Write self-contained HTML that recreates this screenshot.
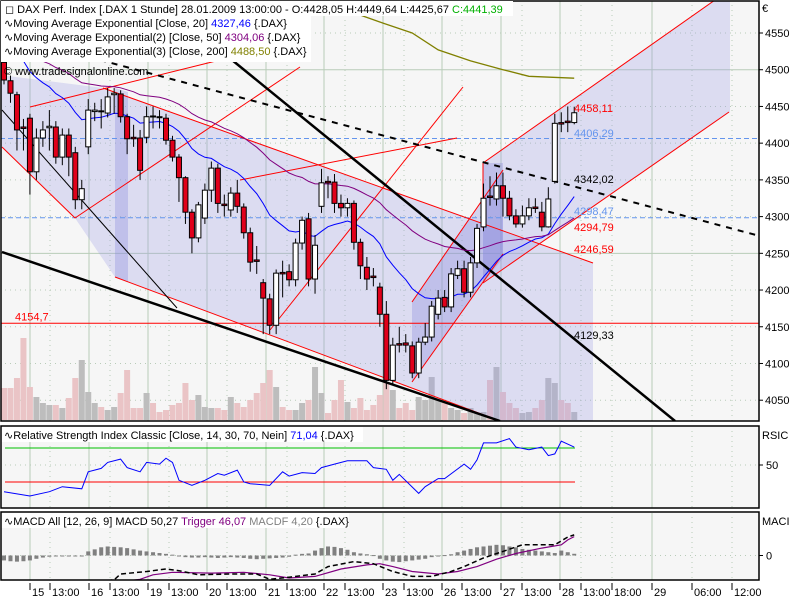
<!DOCTYPE html>
<html><head><meta charset="utf-8"><style>
body{margin:0;background:#fff;}
svg{display:block;font-family:"Liberation Sans",sans-serif;}
</style></head><body>
<svg id="chart" width="800" height="600" viewBox="0 0 800 600">
<rect x="0" y="0" width="800" height="600" fill="#ffffff"/>
<defs>
<clipPath id="cm"><rect x="1" y="1" width="758" height="420"/></clipPath>
<clipPath id="cr"><rect x="1" y="427" width="758" height="81"/></clipPath>
<clipPath id="cd"><rect x="1" y="513" width="758" height="67"/></clipPath>
</defs>
<g id="main" clip-path="url(#cm)"></g>
<g id="rsi" clip-path="url(#cr)"></g>
<g id="macd" clip-path="url(#cd)"></g>
<g id="frames"></g>
<g id="axes"></g>
<g id="legend" font-size="11">
<rect x="1" y="1" width="512" height="15" fill="#fff"/>
<rect x="1" y="16" width="310" height="46" fill="#fff"/>
<text x="5" y="13">◻ DAX Perf. Index [.DAX  1 Stunde] 28.01.2009 13:00:00 - O:4428,05 H:4449,64 L:4425,67 <tspan fill="#00b000">C:4441,39</tspan></text>
<text x="4" y="27">∿Moving Average Exponential [Close, 20] <tspan fill="#0000ff">4327,46</tspan> {.DAX}</text>
<text x="4" y="41">∿Moving Average Exponential(2) [Close, 50] <tspan fill="#800080">4304,06</tspan> {.DAX}</text>
<text x="4" y="55">∿Moving Average Exponential(3) [Close, 200] <tspan fill="#808000">4488,50</tspan> {.DAX}</text>
<text x="4" y="75">© www.tradesignalonline.com</text>
</g>
</svg>
<script>
const opens=[4510,4485,4466,4422,4434,4361,4407,4421,4422,4381,4411,4387,4323,4395,4443,4444,4441,4466,4467,4436,4408,4407,4408,4437,4436,4434,4404,4381,4353,4306,4271,4298,4336,4366,4317,4309,4332,4313,4278,4241,4210,4188,4152,4224,4225,4214,4264,4297,4215,4314,4348,4347,4318,4312,4318,4265,4231,4219,4204,4167,4077,4127,4128,4124,4087,4129,4136,4167,4190,4177,4220,4229,4197,4237,4286,4328,4324,4342,4325,4301,4290,4301,4313,4306,4286,4348,4428,4430,4428.05];
const closes=[4486,4468,4418,4420,4361,4407,4418,4423,4381,4411,4381,4323,4338,4445,4445,4443,4463,4468,4436,4406,4406,4363,4436,4436,4435,4404,4381,4353,4306,4271,4316,4336,4366,4318,4315,4332,4314,4278,4238,4239,4189,4152,4223,4222,4214,4264,4295,4215,4261,4346,4346,4318,4312,4318,4265,4233,4215,4217,4167,4077,4125,4125,4125,4087,4129,4136,4178,4189,4177,4222,4229,4197,4237,4284,4325,4326,4342,4325,4301,4290,4301,4312,4311,4286,4324,4427,4426,4428,4441.39];
const highs=[4520,4492,4470,4433,4440,4420,4430,4445,4430,4420,4420,4395,4350,4460,4455,4460,4475,4475,4472,4440,4425,4418,4450,4450,4445,4440,4410,4385,4355,4310,4320,4345,4375,4372,4330,4340,4350,4318,4285,4260,4215,4195,4228,4240,4235,4270,4300,4305,4275,4365,4355,4358,4330,4325,4322,4270,4245,4230,4210,4185,4135,4150,4140,4130,4135,4155,4185,4200,4200,4230,4240,4240,4245,4290,4345,4355,4360,4360,4335,4310,4315,4325,4325,4320,4340,4440,4442,4450,4449.64];
const lows=[4480,4455,4390,4390,4330,4350,4395,4390,4372,4370,4355,4310,4310,4385,4430,4420,4435,4440,4428,4385,4395,4350,4400,4420,4420,4398,4375,4320,4290,4250,4265,4290,4320,4305,4300,4300,4305,4270,4225,4222,4140,4140,4140,4190,4205,4205,4255,4205,4195,4305,4325,4305,4300,4300,4255,4215,4200,4205,4150,4065,4070,4115,4115,4080,4080,4125,4130,4160,4170,4170,4215,4190,4190,4230,4280,4315,4315,4300,4295,4285,4285,4295,4305,4280,4285,4345,4415,4415,4425.67];
const volumes=[32,32,42,82,33,23,17,15,15,12,22,42,60,28,17,13,10,13,27,50,12,12,27,17,8,10,15,17,37,20,25,13,12,12,10,23,17,13,20,27,37,50,33,13,10,10,17,20,53,27,7,20,40,18,12,22,10,15,25,38,30,12,17,10,23,20,43,20,17,12,10,7,12,7,8,40,53,28,17,12,7,8,12,20,42,37,20,17,8];
const ema200Idx=[44,50,58,63,67,72,77,81,88];
const ema200Val=[4615,4590,4565,4550,4527,4512,4500,4491,4488.5];
const rsiIdx=[0,4,7,9,12,13,15,16,18,19,21,22,24,25,26,27,29,31,33,34,36,37,38,41,43,44,46,48,49,51,53,56,57,59,60,61,64,65,67,68,71,72,73,74,76,78,79,81,83,84,85,86,88];
const rsiVal=[18.6,13.5,18.6,24.5,22,42,46,53,57,47,42,53,51,58,53,32,26,32,40,38,44,30,28,26,42,37,41,40,47,51,55,55,47,45,32,39,16.6,24.5,34,34,51,45,56,76,76,81,71,68,71,61,63,78,71.04];
const macdIdx=[0,10,17,18,22,25,27,30,35,39,41,44,48,50,54,57,60,63,66,69,71,74,77,80,85,87,88];
const macdVal=[-90,-75,-59,-45,-39,-33,-37,-47,-45,-45,-58,-53,-45,-27,-15,-20,-39,-51,-51,-39,-27,-6,10,26,26,45,50.27];
const trigIdx=[0,10,21,23,26,32,37,41,44,48,52,56,58,60,63,67,70,73,76,79,83,86,87,88];
const trigVal=[-100,-80,-58,-47,-41,-43,-41,-47,-55,-51,-33,-23,-20,-27,-39,-45,-39,-27,-9,5,18,26,38,46.07];
const histVal=[-12,-14,-15,-14,-12,-8,-5,-3,-2,-1,-2,-1,0,10,15,20,22,21,20,18,15,12,10,8,6,4,2,-2,-4,-5,-5,-4,-5,-6,-5,-4,-5,-6,-8,-9,-8,-7,-6,-5,-3,2,4,5,12,18,22,21,18,14,8,5,3,1,-8,-12,-15,-16,-14,-12,-10,-8,-4,-1,1,3,8,12,16,20,22,24,26,25,22,20,16,14,12,10,8,6,12,8,4.2];
const priceTicks=[4050,4100,4150,4200,4250,4300,4350,4400,4450,4500,4550];
const xLabels=["15","13:00","16","13:00","19","13:00","20","13:00","21","13:00","22","13:00","23","13:00","26","13:00","27","13:00","28","13:00","18:00","29","06:00","12:00"];
const xLabelPos=[30,50,89,110,148,169,207,227,266,287,324,345,383,404,442,462,501,522,560,581,612,652,692,732];
const dayLines=[30,89,148,207,266,324,383,442,501,560,652];

const NS="http://www.w3.org/2000/svg";
function mk(p,tag,a){const e=document.createElementNS(NS,tag);for(const k in a)e.setAttribute(k,a[k]);p.appendChild(e);return e;}
const X=i=>4+i*6.48;
const Y=p=>33+(4550-p)*0.7344;
const RY=v=>448+(70-v)*0.85;
const MY=v=>555.5-v*0.41;
const main=document.getElementById('main'),rsi=document.getElementById('rsi'),macd=document.getElementById('macd'),axes=document.getElementById('axes'),frames=document.getElementById('frames');

[[main,0,420],[rsi,426,82],[macd,512,68]].forEach(([g,y,h])=>{const r=mk(g,'rect',{x:0,y:y,width:760,height:h+2,fill:'#f6f6f6'});

});

function vgrid(g,y1,y2){
  dayLines.forEach(x=>{const l=mk(g,'line',{x1:x,x2:x,y1:y1,y2:y2,stroke:'#b8ccb8','stroke-width':1});
  
  });
  [50,110,169,227,287,345,404,462,522,581,612,692,732].forEach(x=>{const l=mk(g,'line',{x1:x,x2:x,y1:y1,y2:y2,stroke:'#b8ccb8','stroke-dasharray':'1,4'});
  
  });
}
vgrid(main,0,421);vgrid(rsi,426,508);vgrid(macd,512,580);
priceTicks.forEach(p=>{const solid=(p===4500||p===4250);
  const l=mk(main,'line',{x1:0,x2:760,y1:Y(p),y2:Y(p),stroke:'#b8ccb8','stroke-dasharray':solid?'none':'1,4'});
  
  });
[[rsi,RY(50)],[macd,MY(0)]].forEach(([g,y])=>{const l=mk(g,'line',{x1:0,x2:760,y1:y,y2:y,stroke:'#b8ccb8','stroke-dasharray':'1,4'});

});

volumes.forEach((v,i)=>{const up=closes[i]>=opens[i];
  const r=mk(main,'rect',{x:X(i)-3,y:420-v,width:6,height:v,fill:up?'#bdbdbd':'#eac4c6'});
  
  });

function poly(pts,fill,name){const e=mk(main,'polygon',{points:pts,fill:fill});

}
poly('0,75 103,88 593,263 593,421 500,421 115,277 75,218 2,147','rgba(160,160,230,0.3)','falling-channel-fill');
poly('115,88 128,92 128,282 115,277','rgba(130,130,220,0.3)','channel-band-fill');
poly('483,163 715,0 730,0 730,112 483,283','rgba(160,160,230,0.3)','rising-channel-fill');
poly('412,302 503,170 503,254 412,382','rgba(130,130,220,0.3)','short-channel-fill');
poly('483,163 503,163 503,258 483,283','rgba(130,130,220,0.3)','short-band-fill');

function ln(g,x1,y1,x2,y2,c,w,dash,name){const e=mk(g,'line',{x1,y1,x2,y2,stroke:c,'stroke-width':w});if(dash)e.setAttribute('stroke-dasharray',dash);

}
ln(main,0,Y(4406.29),760,Y(4406.29),'#6495ed',1,'5,3','level-4406');
ln(main,0,Y(4298.47),760,Y(4298.47),'#6495ed',1,'5,3','level-4298');
ln(main,0,Y(4154.7),760,Y(4154.7),'#ff0000',1,null,'level-4154');
ln(main,103,88,593,263,'#ff0000',1,null,'trend-upper');
ln(main,115,277,500,421,'#ff0000',1,null,'trend-lower');
ln(main,2,147,75,218,'#ff0000',1,null,'trend-left');
ln(main,30,107,220,60,'#ff0000',1,null,'trend-top');
ln(main,75,218,300,67,'#ff0000',1,null,'trend-rise1');
ln(main,240,180,457,138,'#ff0000',1,null,'trend-rise2');
ln(main,270,330,463,87,'#ff0000',1,null,'trend-rise3');
ln(main,412,302,503,170,'#ff0000',1,null,'trend-short-up');
ln(main,412,382,503,254,'#ff0000',1,null,'trend-short-low');
ln(main,483,163,715,0,'#ff0000',1,null,'channel-upper');
ln(main,483,283,729,112,'#ff0000',1,null,'channel-lower');
ln(main,483,163,483,228,'#ff0000',1,null,'channel-vert');
ln(main,232,60,675,421,'#000',2.5,null,'black-trend-1');
ln(main,2,252,500,421,'#000',2.5,null,'black-trend-2');
ln(main,100,60,756,235,'#000',2,'6,6','black-dashed-trend');
ln(main,2,110,177,308,'#000',1,null,'black-thin-trend');

function ema(n,seed){const a=2/(n+1);let e=seed;return closes.map(c=>(e=e+a*(c-e)));}
function path(g,xs,ys,c,w,name,dash){const d=xs.map((x,k)=>(k?'L':'M')+x.toFixed(1)+','+ys[k].toFixed(1)).join('');const e=mk(g,'path',{d,fill:'none',stroke:c,'stroke-width':w});if(dash)e.setAttribute('stroke-dasharray',dash);

}
const e20=ema(20,4545),e50=ema(50,4540);
path(main,closes.map((c,i)=>X(i)),e20.map(Y),'#0000ff',1,'ema20-line');
path(main,closes.map((c,i)=>X(i)),e50.map(Y),'#800080',1,'ema50-line');
path(main,ema200Idx.map(X),ema200Val.map(Y),'#808000',1.3,'ema200-line');

opens.forEach((o,i)=>{const c=closes[i],x=X(i),up=c>=o;
  const w=mk(main,'line',{x1:x,x2:x,y1:Y(highs[i]),y2:Y(lows[i]),stroke:'#000','stroke-width':1});
  
  
  const t=Y(Math.max(o,c)),b=Y(Math.min(o,c));
  const r=mk(main,'rect',{x:x-2.5,y:t,width:5,height:Math.max(1,b-t),fill:up?'#ffffff':'#e0001a',stroke:'#000','stroke-width':1});
  
  });

[['4458,11',112,'#ff0000'],['4406,29',137,'#6495ed'],['4342,02',183,'#000'],['4298,47',215,'#6495ed'],['4294,79',231,'#ff0000'],['4246,59',253,'#ff0000'],['4129,33',339,'#000']].forEach(([t,y,c])=>{
  const e=mk(main,'text',{x:574,y:y,fill:c,'font-size':11});e.textContent=t;
  
  });
{const e=mk(main,'text',{x:15,y:Y(4154.7)-3,fill:'#ff0000','font-size':11});e.textContent='4154,7';

}

ln(rsi,5,RY(70),575,RY(70),'#00c000',1,null,'rsi-level-70');
ln(rsi,5,RY(30),575,RY(30),'#ff0000',1,null,'rsi-level-30');
path(rsi,rsiIdx.map(X),rsiVal.map(RY),'#0000ff',1,'rsi-line');
{const b=mk(rsi,'rect',{x:1,y:427,width:362,height:15,fill:'#fff'});
const e=mk(rsi,'text',{x:4,y:439,'font-size':11});e.innerHTML='∿Relative Strength Index Classic [Close, 14, 30, 70, Nein] <tspan fill="#0000ff">71,04</tspan> {.DAX}';

}

histVal.forEach((v,i)=>{const y0=MY(0),y1=MY(v);
  const r=mk(macd,'rect',{x:X(i)-2,y:Math.min(y0,y1),width:4,height:Math.max(1,Math.abs(y1-y0)),fill:'#808080'});
  
  });
path(macd,trigIdx.map(X),trigVal.map(MY),'#800080',1.2,'trigger-line');
path(macd,macdIdx.map(X),macdVal.map(MY),'#000',1.5,'macd-line','5,3');
{const b=mk(macd,'rect',{x:1,y:513,width:348,height:15,fill:'#fff'});
const e=mk(macd,'text',{x:4,y:525,'font-size':11});e.innerHTML='∿MACD All [12, 26, 9] MACD 50,27 <tspan fill="#800080">Trigger 46,07</tspan> <tspan fill="#808080">MACDF 4,20</tspan> {.DAX}';

}

[[1,1,758,420],[1,426,758,82],[1,512,758,68]].forEach(([x,y,w,h])=>{const r=mk(frames,'rect',{x,y,width:w,height:h,fill:'none',stroke:'#000','stroke-width':1.5});

});

priceTicks.forEach(p=>{const y=Y(p);
  ln(axes,759,y,763,y,'#000',1,null,'price-tick');
  const t=mk(axes,'text',{x:765,y:y+4,'font-size':11});t.textContent=p;
  
  });
{const t=mk(axes,'text',{x:762,y:12,'font-size':11});t.textContent='€';
const r=mk(axes,'text',{x:762,y:439,'font-size':11});r.textContent='RSIC';
ln(axes,759,RY(50),763,RY(50),'#000',1,null,'rsi-tick');
const r5=mk(axes,'text',{x:766,y:RY(50)+4,'font-size':11});r5.textContent='50';
const m=mk(axes,'text',{x:762,y:525,'font-size':11});m.textContent='MACI';
ln(axes,759,MY(0),763,MY(0),'#000',1,null,'macd-tick');
const m0=mk(axes,'text',{x:766,y:MY(0)+4,'font-size':11});m0.textContent='0';}
xLabels.forEach((s,k)=>{const x=xLabelPos[k];
  ln(axes,x,583,x,590,'#000',1,null,'time-tick');
  const t=mk(axes,'text',{x:x+2,y:596,'font-size':11});t.textContent=s;
  
  });
</script>
</body></html>
